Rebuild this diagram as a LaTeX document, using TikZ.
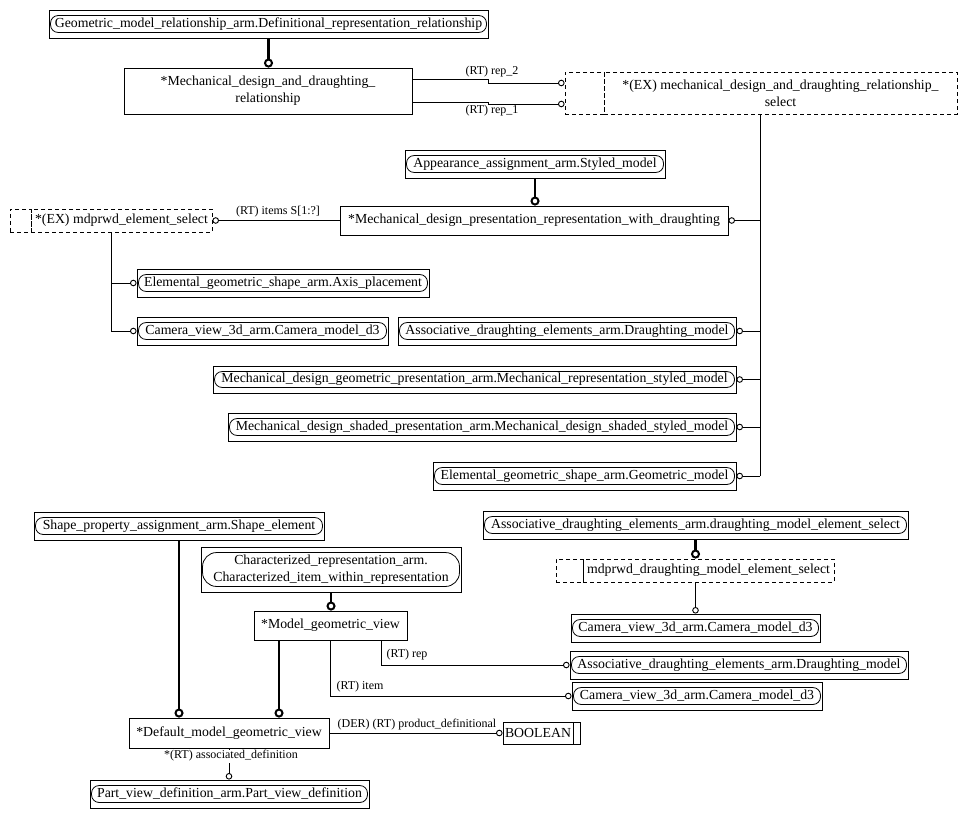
\documentclass[tikz,border=0pt]{standalone}
\usepackage{fontspec}
\setmainfont{Liberation Serif}
\usetikzlibrary{arrows.meta,calc}
\tikzset{
 ebox/.style={draw, line width=0.9pt, inner sep=0pt, align=center, font=\fontsize{13.8}{17}\selectfont},
 dbox/.style={ebox, dash pattern=on 4pt off 3pt},
 rr/.style={line width=0.8pt, rounded corners=7.5pt},
 lbl/.style={font=\fontsize{12}{14}\selectfont, inner sep=1pt},
 thn/.style={line width=0.9pt},
 thk/.style={line width=2.6pt},
 oc/.style={-{Circle[open,length=6.5pt,width=6.5pt,line width=0.9pt]}},
 okc/.style={-{Circle[open,length=9pt,width=9pt,line width=2pt]}},
}
\newcommand{\inrr}[3][7.5pt]{\draw[rr, rounded corners=#1] ($(#2.south west)+(2,-#3)$) rectangle ($(#2.north east)+(-2,#3)$);}
\begin{document}
\begin{tikzpicture}[x=1pt,y=-1pt]
\useasboundingbox (0,0) rectangle (966,818);
% top part
\node[ebox, minimum width=439pt, minimum height=28pt] (n1) at (268.5,24) {Geometric\_model\_relationship\_arm.Definitional\_representation\_relationship};
\inrr{n1}{6}
\node[ebox, minimum width=288pt, minimum height=46pt] (n2) at (268,91) {*Mechanical\_design\_and\_draughting\_\\relationship};
\node[dbox, minimum width=39pt, minimum height=42pt] (s1a) at (584.5,93) {};
\node[dbox, minimum width=353pt, minimum height=42pt] (s1) at (780.5,93) {*(EX) mechanical\_design\_and\_draughting\_relationship\_\\select};
\node[ebox, minimum width=260pt, minimum height=28pt] (app) at (535,164) {Appearance\_assignment\_arm.Styled\_model};
\inrr{app}{6}
\node[ebox, minimum width=388pt, minimum height=29pt] (mdp) at (534,220.5) {*Mechanical\_design\_presentation\_representation\_with\_draughting};
\node[dbox, minimum width=21pt, minimum height=23pt] (s2a) at (20.5,220.5) {};
\node[dbox, minimum width=181pt, minimum height=23pt] (s2) at (121.5,220.5) {*(EX) mdprwd\_element\_select};
\node[ebox, minimum width=292pt, minimum height=28pt] (axp) at (283,283) {Elemental\_geometric\_shape\_arm.Axis\_placement};
\inrr{axp}{6}
\node[ebox, minimum width=251pt, minimum height=28pt] (cam1) at (262.5,331) {Camera\_view\_3d\_arm.Camera\_model\_d3};
\inrr{cam1}{6}
\node[ebox, minimum width=338pt, minimum height=28pt] (adm1) at (567,331) {Associative\_draughting\_elements\_arm.Draughting\_model};
\inrr{adm1}{6}
\node[ebox, minimum width=523pt, minimum height=27pt] (mgp) at (474.5,379.5) {Mechanical\_design\_geometric\_presentation\_arm.Mechanical\_representation\_styled\_model};
\inrr{mgp}{6}
\node[ebox, minimum width=508pt, minimum height=28pt] (msp) at (482,427) {Mechanical\_design\_shaded\_presentation\_arm.Mechanical\_design\_shaded\_styled\_model};
\inrr{msp}{6}
\node[ebox, minimum width=303pt, minimum height=28pt] (egm) at (584.5,476) {Elemental\_geometric\_shape\_arm.Geometric\_model};
\inrr{egm}{6}
% bottom part
\node[ebox, minimum width=290pt, minimum height=28pt] (spa) at (179,526) {Shape\_property\_assignment\_arm.Shape\_element};
\inrr{spa}{6}
\node[ebox, minimum width=260pt, minimum height=45pt] (cri) at (331,569.5) {Characterized\_representation\_arm.\\Characterized\_item\_within\_representation};
\inrr[14pt]{cri}{6}
\node[ebox, minimum width=153pt, minimum height=29pt] (mgv) at (330.5,625.5) {*Model\_geometric\_view};
\node[ebox, minimum width=200pt, minimum height=30pt] (dmg) at (229,733) {*Default\_model\_geometric\_view};
\node[ebox, minimum width=279pt, minimum height=28pt] (pvd) at (229.5,794) {Part\_view\_definition\_arm.Part\_view\_definition};
\inrr{pvd}{6}
\node[ebox, minimum width=425pt, minimum height=28pt] (ads) at (695.5,525) {Associative\_draughting\_elements\_arm.draughting\_model\_element\_select};
\inrr{ads}{6}
\node[dbox, minimum width=27pt, minimum height=23pt] (s3a) at (569.5,570.5) {};
\node[dbox, minimum width=251pt, minimum height=23pt] (s3) at (708.5,570.5) {mdprwd\_draughting\_model\_element\_select};
\node[ebox, minimum width=249pt, minimum height=28pt] (cam2) at (695.5,628) {Camera\_view\_3d\_arm.Camera\_model\_d3};
\inrr{cam2}{6}
\node[ebox, minimum width=338pt, minimum height=28pt] (adm2) at (739,665) {Associative\_draughting\_elements\_arm.Draughting\_model};
\inrr{adm2}{6}
\node[ebox, minimum width=250pt, minimum height=28pt] (cam3) at (697,696) {Camera\_view\_3d\_arm.Camera\_model\_d3};
\inrr{cam3}{6}
\node[ebox, minimum width=70pt, minimum height=22pt] (bool) at (538,733) {BOOLEAN};
\node[ebox, minimum width=7pt, minimum height=22pt] (boolr) at (576.5,733) {};
% connectors top
\draw[thk,okc] (n1.south) -- (n1.south |- n2.north);
\draw[thn,oc] ([yshift=12pt]n2.east) -- ++(76,0) -- ++(0,4) -- ([yshift=10pt]s1a.west);
\draw[thn,oc] ([yshift=-11pt]n2.east) -- ++(76,0) -- ++(0,2) -- ([yshift=-11pt]s1a.west);
\node[lbl] (l1) at (492,72) {(RT) rep\_2};
\node[lbl] (l2) at (492,111) {(RT) rep\_1};
\coordinate (bus) at ([xshift=-20.5pt]s1.south);
\draw[thn] (bus) -- (bus |- egm.east);
\foreach \n in {mdp,adm1,mgp,msp,egm} \draw[thn,oc] (bus |- \n.east) -- (\n.east);
\draw[thk,okc] (app.south) -- (app.south |- mdp.north);
\draw[thn,oc] (mdp.west) -- (s2.east);
\node[lbl] (l3) at (278,212) {(RT) items S[1:?]};
\coordinate (b2) at ([xshift=-10.5pt]s2.south);
\draw[thn] (b2) -- (b2 |- cam1.west);
\draw[thn,oc] (b2 |- axp.west) -- (axp.west);
\draw[thn,oc] (b2 |- cam1.west) -- (cam1.west);
% connectors bottom
\draw[thk,okc] (ads.south) -- (ads.south |- s3.north);
\draw[thn,oc] (ads.south |- s3.south) -- (ads.south |- cam2.north);
\draw[thk,okc] (spa.south) -- (spa.south |- dmg.north);
\draw[thk,okc] (cri.south) -- (cri.south |- mgv.north);
\draw[thk,okc] ([xshift=-51.5pt]mgv.south) -- ([xshift=-51.5pt]mgv.south |- dmg.north);
\draw[thn,oc] ([xshift=50.5pt]mgv.south) |- (adm2.west);
\node[lbl] (l4) at (407,655) {(RT) rep};
\draw[thn,oc] (mgv.south) |- (cam3.west);
\node[lbl] (l5) at (360,687) {(RT) item};
\draw[thn,oc] (dmg.east) -- (bool.west);
\node[lbl] (l6) at (417,725) {(DER) (RT) product\_definitional};
\draw[thn,oc] (dmg.south) -- (dmg.south |- pvd.north);
\node[lbl, fill=white] (l7) at (231,756) {*(RT) associated\_definition};
\end{tikzpicture}
\end{document}
